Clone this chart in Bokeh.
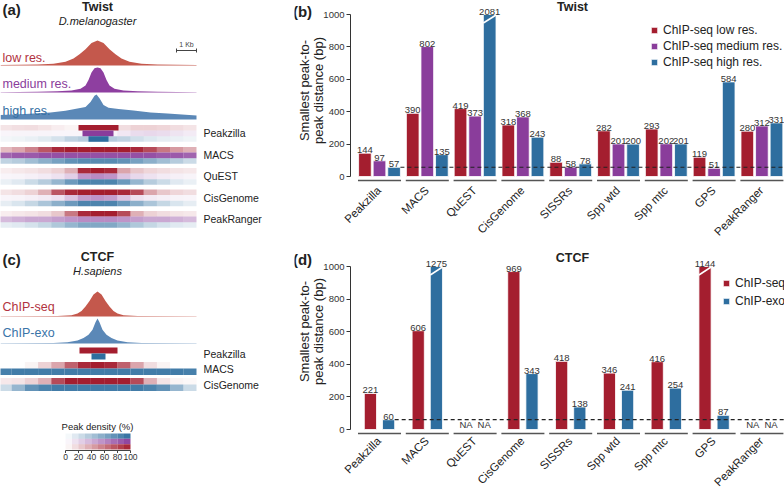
import math
from bokeh.plotting import figure
from bokeh.models import Range1d, FixedTicker, Legend, LegendItem
from bokeh.layouts import row, column
from bokeh.core.properties import value
from bokeh.embed import file_html
from bokeh.resources import INLINE

FONT = "Liberation Sans"
RED = "#A41E2F"
PURPLE = "#8A3D9B"
BLUE = "#2E6E9F"
CURVE_RED = "#C4584C"
CURVE_PURPLE = "#8E3FA0"
CURVE_BLUE = "#5B88B7"
TXT = "#222222"

# ---------------- bar chart data ----------------
methods = ["Peakzilla", "MACS", "QuEST", "CisGenome", "SISSRs", "Spp wtd", "Spp mtc", "GPS", "PeakRanger"]
twist_low = [144, 390, 419, 318, 88, 282, 293, 119, 280]
twist_med = [97, 802, 373, 368, 58, 201, 202, 51, 312]
twist_high = [57, 135, 2081, 243, 78, 200, 201, 584, 331]
ctcf_seq = [221, 606, None, 969, 418, 346, 416, 1144, None]
ctcf_exo = [60, 1275, None, 343, 138, 241, 254, 87, None]
twist_labels = ["ChIP-seq low res.", "ChIP-seq medium res.", "ChIP-seq high res."]
ctcf_labels = ["ChIP-seq", "ChIP-exo"]
y_ticks = [0, 200, 400, 600, 800, 1000]
y_cap = 1000

# ---------------- read-density profiles (kb from summit, relative density) ----------------
low_kb = [-4.85, -3.0, -2.2, -1.6, -1.2, -0.9, -0.6, -0.3, 0.0, 0.3, 0.6, 0.9, 1.2, 1.6, 2.2, 3.0, 4.95]
low_dens = [0.02, 0.04, 0.07, 0.15, 0.28, 0.45, 0.65, 0.9, 1.0, 0.9, 0.65, 0.45, 0.28, 0.15, 0.07, 0.04, 0.02]
med_kb = [-4.85, -3.0, -2.0, -1.3, -0.85, -0.6, -0.45, -0.3, -0.15, 0.0, 0.15, 0.3, 0.45, 0.6, 0.85, 1.3, 2.0, 3.0, 4.95]
med_dens = [0.01, 0.03, 0.05, 0.08, 0.15, 0.28, 0.5, 0.8, 0.97, 1.0, 0.97, 0.8, 0.5, 0.28, 0.15, 0.08, 0.05, 0.03, 0.01]
high_kb = [-4.85, -3.6, -2.35, -1.6, -1.0, -0.6, -0.35, -0.15, -0.05, 0.1, 0.3, 0.55, 1.05, 1.8, 2.65, 3.5, 4.95]
high_dens = [0.18, 0.22, 0.28, 0.35, 0.44, 0.5, 0.7, 0.95, 1.0, 0.85, 0.58, 0.47, 0.42, 0.36, 0.28, 0.24, 0.16]
seq_kb = [-4.85, -2.0, -1.3, -1.0, -0.8, -0.6, -0.4, -0.2, 0.0, 0.2, 0.4, 0.6, 0.8, 1.0, 1.3, 2.0, 4.95]
seq_dens = [0.01, 0.02, 0.05, 0.12, 0.22, 0.4, 0.62, 0.88, 1.0, 0.88, 0.62, 0.4, 0.22, 0.12, 0.05, 0.02, 0.01]
exo_kb = [-4.85, -2.2, -1.5, -1.0, -0.7, -0.45, -0.25, -0.1, 0.0, 0.1, 0.25, 0.45, 0.7, 1.0, 1.5, 2.2, 4.95]
exo_dens = [0.01, 0.02, 0.05, 0.12, 0.22, 0.35, 0.55, 0.85, 1.0, 0.85, 0.55, 0.35, 0.22, 0.12, 0.05, 0.02, 0.01]

# ---------------- peak-density heat strips (bins in kb, density fraction) ----------------
bin_kb = [-4.62, -3.96, -3.30, -2.64, -1.98, -1.32, -0.66, 0.0, 0.66, 1.32, 1.98, 2.64, 3.30, 3.96, 4.62]
pz_low_bg = [0.12, 0.14, 0.15, 0.12, 0.08, 0.05, 0.03, 0.03, 0.05, 0.15, 0.2, 0.2, 0.18, 0.15, 0.12]
pz_med_bg = [0.05, 0.06, 0.06, 0.06, 0.05, 0.05, 0.05, 0.05, 0.06, 0.12, 0.18, 0.2, 0.18, 0.14, 0.1]
pz_high_bg = [0.06, 0.08, 0.1, 0.14, 0.2, 0.3, 0.35, 0.35, 0.35, 0.3, 0.22, 0.16, 0.12, 0.1, 0.08]
macs_low = [0.3, 0.4, 0.55, 0.75, 0.95, 1.0, 1.0, 1.0, 1.0, 1.0, 0.95, 0.8, 0.6, 0.45, 0.35]
macs_med = [0.8, 0.85, 0.85, 0.9, 0.9, 0.9, 0.9, 0.9, 0.9, 0.9, 0.9, 0.9, 0.85, 0.85, 0.8]
macs_high = [0.3, 0.35, 0.45, 0.55, 0.65, 0.75, 0.8, 0.8, 0.8, 0.75, 0.65, 0.55, 0.45, 0.35, 0.25]
quest_low = [0.08, 0.1, 0.12, 0.15, 0.2, 0.35, 0.95, 1.0, 0.95, 0.4, 0.25, 0.18, 0.15, 0.12, 0.1]
quest_med = [0.05, 0.06, 0.08, 0.1, 0.15, 0.25, 0.55, 0.6, 0.55, 0.3, 0.2, 0.15, 0.1, 0.08, 0.06]
quest_high = [0.1, 0.15, 0.25, 0.35, 0.5, 0.7, 0.85, 0.85, 0.85, 0.7, 0.5, 0.35, 0.25, 0.15, 0.1]
cis_low = [0.12, 0.15, 0.2, 0.35, 0.75, 0.95, 1.0, 1.0, 1.0, 0.95, 0.8, 0.4, 0.25, 0.18, 0.15]
cis_med = [0.05, 0.06, 0.08, 0.1, 0.15, 0.3, 0.5, 0.55, 0.5, 0.3, 0.15, 0.1, 0.08, 0.06, 0.05]
cis_high = [0.12, 0.18, 0.28, 0.4, 0.55, 0.7, 0.85, 0.85, 0.85, 0.7, 0.55, 0.4, 0.28, 0.18, 0.12]
pr_low = [0.08, 0.1, 0.12, 0.15, 0.25, 0.6, 0.95, 1.0, 1.0, 0.8, 0.35, 0.2, 0.15, 0.12, 0.1]
pr_med = [0.35, 0.4, 0.45, 0.45, 0.5, 0.55, 0.6, 0.6, 0.6, 0.55, 0.5, 0.45, 0.45, 0.4, 0.35]
pr_high = [0.12, 0.15, 0.2, 0.28, 0.38, 0.5, 0.6, 0.6, 0.6, 0.5, 0.38, 0.28, 0.2, 0.15, 0.12]
ctcf_macs_seq = [0.0, 0.0, 0.05, 0.2, 0.4, 0.7, 0.95, 1.0, 0.95, 0.7, 0.4, 0.15, 0.05, 0.0, 0.0]
ctcf_macs_exo = [0.88, 0.9, 0.9, 0.9, 0.9, 0.9, 0.9, 0.9, 0.9, 0.9, 0.9, 0.9, 0.9, 0.9, 0.88]
ctcf_cis_seq = [0.1, 0.12, 0.2, 0.35, 0.8, 1.0, 1.0, 1.0, 1.0, 1.0, 0.8, 0.35, 0.12, 0.05, 0.03]
ctcf_cis_exo = [0.25, 0.5, 0.75, 0.85, 0.9, 0.9, 0.9, 0.9, 0.9, 0.9, 0.9, 0.85, 0.75, 0.5, 0.25]

# Peakzilla peak intervals (kb): low / medium / high res. and ChIP-seq / ChIP-exo
twist_pz_start = [-0.95, -0.75, -0.45]
twist_pz_end = [1.05, 0.8, 0.55]
ctcf_pz_start = [-0.9, -0.3]
ctcf_pz_end = [1.0, 0.4]

density_levels = [5, 15, 25, 35, 45, 55, 65, 75, 85, 95]
density_ticks = [0, 20, 40, 60, 80, 100]

LEFT_W = 262
TOTAL_W = 784


# ================= helpers =================
def kb(px):
    """layout helper: reference pixel column -> kb coordinate of the illustration panels"""
    return (px - 97) / 20.0


def Y(px):
    return -px


def txt(p, x, y, s, size, color=TXT, align="left", style="normal", baseline="middle", angle=0.0):
    p.text(x=[x], y=[y], text=[s], text_font=value(FONT), text_font_size=value(size),
           text_color=color, text_align=align, text_baseline=baseline,
           text_font_style=style, angle=angle)


def illus_fig(top, bottom):
    p = figure(width=LEFT_W, height=bottom - top, x_range=Range1d(kb(0), kb(LEFT_W)),
               y_range=Range1d(Y(bottom), Y(top)), output_backend="svg",
               toolbar_location=None, x_axis_location=None, y_axis_location=None,
               min_border_left=0, min_border_right=0, min_border_top=0, min_border_bottom=0,
               title=None)
    p.grid.visible = False
    p.outline_line_color = None
    return p


def curve(p, xs, dens, base, color):
    p.varea(x=xs, y1=[Y(base)] * len(xs), y2=[Y(base - 25 * d) for d in dens], fill_color=color)


def heat_block(p, top, row_h, rows):
    for r, (vals, col) in enumerate(rows):
        p.quad(left=[b - 0.33 for b in bin_kb], right=[b + 0.33 for b in bin_kb],
               top=[Y(top + r * row_h)] * len(bin_kb), bottom=[Y(top + (r + 1) * row_h)] * len(bin_kb),
               fill_color=col, fill_alpha=vals, line_color=None)


def pz_bars(p, top, row_h, starts, ends, cols):
    p.quad(left=starts, right=ends, top=[Y(top + r * row_h) for r in range(len(starts))],
           bottom=[Y(top + (r + 1) * row_h) for r in range(len(starts))],
           fill_color=cols, line_color=None)


# ================= panel (a) =================
A = illus_fig(0, 250)
txt(A, kb(2), Y(9), "(a)", "15px", style="bold")
txt(A, kb(97), Y(6), "Twist", "12.5px", align="center", style="bold")
txt(A, kb(97), Y(20), "D.melanogaster", "11px", align="center", style="italic")
A.segment(x0=[kb(176)], y0=[Y(50)], x1=[kb(196)], y1=[Y(50)], line_color="#444", line_width=1)
A.segment(x0=[kb(176), kb(196)], y0=[Y(48), Y(48)], x1=[kb(176), kb(196)], y1=[Y(52), Y(52)],
          line_color="#444", line_width=1)
txt(A, kb(186), Y(44), "1 Kb", "7px", align="center", color="#444")
curve(A, low_kb, low_dens, 65, CURVE_RED)
curve(A, med_kb, med_dens, 92, CURVE_PURPLE)
curve(A, high_kb, high_dens, 119, CURVE_BLUE)
txt(A, kb(2), Y(57), "low res.", "12.5px", color="#B23341")
txt(A, kb(2), Y(83), "medium res.", "12.5px", color=PURPLE)
txt(A, kb(2), Y(110), "high res.", "12.5px", color="#3570A3")

RH = 5.6
heat_block(A, 124.5, RH, [(pz_low_bg, RED), (pz_med_bg, PURPLE), (pz_high_bg, BLUE)])
pz_bars(A, 124.5, RH, twist_pz_start, twist_pz_end, [RED, PURPLE, BLUE])
heat_block(A, 146.5, RH, [(macs_low, RED), (macs_med, PURPLE), (macs_high, BLUE)])
heat_block(A, 167.5, RH, [(quest_low, RED), (quest_med, PURPLE), (quest_high, BLUE)])
heat_block(A, 189.0, RH, [(cis_low, RED), (cis_med, PURPLE), (cis_high, BLUE)])
heat_block(A, 210.5, RH, [(pr_low, RED), (pr_med, PURPLE), (pr_high, BLUE)])
for name, top in zip(["Peakzilla", "MACS", "QuEST", "CisGenome", "PeakRanger"],
                     [124.5, 146.5, 167.5, 189.0, 210.5]):
    txt(A, kb(203), Y(top + 1.5 * RH), name, "10.5px")

# ================= panel (c) =================
C = illus_fig(250, 488)
txt(C, kb(2), Y(259), "(c)", "15px", style="bold")
txt(C, kb(97), Y(256), "CTCF", "12.5px", align="center", style="bold")
txt(C, kb(97), Y(270), "H.sapiens", "11px", align="center", style="italic")
curve(C, seq_kb, seq_dens, 316, CURVE_RED)
curve(C, exo_kb, exo_dens, 343, CURVE_BLUE)
txt(C, kb(2), Y(306), "ChIP-seq", "12.5px", color="#B23341")
txt(C, kb(2), Y(332), "ChIP-exo", "12.5px", color="#3A74A8")
pz_bars(C, 347, 6, ctcf_pz_start, ctcf_pz_end, [RED, BLUE])
heat_block(C, 361.5, 6.5, [(ctcf_macs_seq, RED), (ctcf_macs_exo, BLUE)])
heat_block(C, 377.5, 6.5, [(ctcf_cis_seq, RED), (ctcf_cis_exo, BLUE)])
txt(C, kb(203), Y(353), "Peakzilla", "10.5px")
txt(C, kb(203), Y(368), "MACS", "10.5px")
txt(C, kb(203), Y(384), "CisGenome", "10.5px")

# colour key
cb0, cb1 = kb(65), kb(130)
cbw = cb1 - cb0
txt(C, kb(97), Y(426), "Peak density (%)", "9.5px", align="center")
for r, col in enumerate([BLUE, PURPLE, RED]):
    C.quad(left=[cb0 + (l - 5) / 100 * cbw for l in density_levels],
           right=[cb0 + (l + 5) / 100 * cbw for l in density_levels],
           top=[Y(433 + r * 5.33)] * len(density_levels), bottom=[Y(433 + (r + 1) * 5.33)] * len(density_levels),
           fill_color=col, fill_alpha=[l / 100 for l in density_levels], line_color=None)
C.segment(x0=[cb0], y0=[Y(450)], x1=[cb1], y1=[Y(450)], line_color="#444", line_width=1)
tx = [cb0 + t / 100 * cbw for t in density_ticks]
C.segment(x0=tx, y0=[Y(450)] * len(tx), x1=tx, y1=[Y(452.5)] * len(tx), line_color="#444", line_width=1)
C.text(x=tx, y=[Y(453)] * len(tx), text=[str(t) for t in density_ticks], text_font=value(FONT),
       text_font_size=value("8.5px"), text_color="#333", text_align="center", text_baseline="top")


# ================= bar panels (b) and (d) =================
X0, PITCH = 379.0, 47.8
BORDER = 32


def bar_panel(series, colors, labels, offsets, bar_w, fig_top, fig_bot, zero_px, cap_px,
              underline_px, title, tag, title_py, tag_py, legend_xy, legend_spacing, ylab_py,
              cat_drop):
    ppu = (zero_px - cap_px) / y_cap
    frame_left = LEFT_W + BORDER

    def XD(px):
        return (px - X0) / PITCH

    def YD(py):
        return (zero_px - py) / ppu

    p = figure(width=TOTAL_W - LEFT_W, height=fig_bot - fig_top,
               x_range=Range1d(XD(frame_left), XD(TOTAL_W)),
               y_range=Range1d(YD(fig_bot), YD(fig_top)),
               output_backend="svg", toolbar_location=None, x_axis_location=None,
               min_border_left=BORDER, min_border_right=0, min_border_top=0, min_border_bottom=0,
               title=None)
    p.grid.visible = False
    p.outline_line_color = None
    ax = p.yaxis[0]
    ax.fixed_location = XD(350)
    ax.ticker = FixedTicker(ticks=y_ticks)
    ax.bounds = (0, y_cap)
    ax.major_label_text_font = FONT
    ax.major_label_text_font_size = "9.5px"
    ax.major_label_text_color = "#333"
    ax.major_tick_out = 4
    ax.major_tick_in = 0
    ax.minor_tick_line_color = None
    ax.axis_line_color = "#333"
    ax.major_tick_line_color = "#333"
    ax.major_label_standoff = 2

    rends = []
    for vals, col, off in zip(series, colors, offsets):
        xs = [i + off for i, v in enumerate(vals) if v is not None]
        vs = [v for v in vals if v is not None]
        tops = [min(v, y_cap) for v in vs]
        r = p.vbar(x=xs, top=tops, bottom=0, width=bar_w, fill_color=col,
                   line_color="white", line_width=0.8)
        rends.append(r)
        p.text(x=xs, y=tops, text=[str(v) for v in vs], text_font=value(FONT),
               text_font_size=value("9.5px"), text_color="#333", text_align="center",
               text_baseline="bottom")
        brk = [x for x, v in zip(xs, vs) if v > y_cap]
        if brk:
            p.segment(x0=[x - bar_w / 2 for x in brk], y0=[y_cap - 8.5 / ppu] * len(brk),
                      x1=[x + bar_w / 2 for x in brk], y1=[y_cap - 0.5 / ppu] * len(brk),
                      line_color="white", line_width=1.5)
        na = [i + off for i, v in enumerate(vals) if v is None]
        if na:
            p.text(x=na, y=[0] * len(na), text=["NA"] * len(na), text_font=value(FONT),
                   text_font_size=value("9.5px"), text_color="#333", text_align="center",
                   text_baseline="bottom")

    n = len(methods)
    uy = YD(underline_px)
    p.segment(x0=[i - 0.45 for i in range(n)], y0=[uy] * n, x1=[i + 0.45 for i in range(n)],
              y1=[uy] * n, line_color="#555", line_width=1.4)
    p.text(x=[i - 0.01 for i in range(n)], y=[YD(zero_px + cat_drop)] * n, text=methods,
           angle=math.pi / 4, text_font=value(FONT), text_font_size=value("11.5px"),
           text_color=TXT, text_align="right", text_baseline="middle")

    ref = min(v for v in (s[0] for s in series) if v is not None)
    p.segment(x0=[offsets[-1] + bar_w / 2], y0=[ref], x1=[XD(TOTAL_W)], y1=[ref],
              line_color="#222", line_width=1.2, line_dash="4 3")

    legend = Legend(items=[LegendItem(label=l, renderers=[r]) for l, r in zip(labels, rends)],
                    location=legend_xy, border_line_color=None, background_fill_alpha=0,
                    padding=0, margin=0, spacing=legend_spacing, glyph_width=8, glyph_height=8,
                    label_height=12, label_standoff=5, label_text_font=FONT,
                    label_text_font_size="12px", label_text_color=TXT)
    p.add_layout(legend)

    txt(p, XD(302), YD(tag_py), tag, "15px", align="center", style="bold")
    txt(p, XD(572), YD(title_py), title, "12.5px", align="center", style="bold")
    txt(p, XD(304), YD(ylab_py), "Smallest peak-to-", "13px", align="center", angle=math.pi / 2)
    txt(p, XD(318), YD(ylab_py), "peak distance (bp)", "13px", align="center", angle=math.pi / 2)
    return p


B = bar_panel([twist_low, twist_med, twist_high], [RED, PURPLE, BLUE], twist_labels,
              [-0.305, 0.0, 0.305], 0.265, 0, 250, 176, 14, 180, "Twist", "(b)", 6, 11,
              (650 - LEFT_W - BORDER, 250 - 69), 2, 90, 12)
D = bar_panel([ctcf_seq, ctcf_exo], [RED, BLUE], ctcf_labels,
              [-0.19, 0.19], 0.255, 250, 488, 429, 266, 433, "CTCF", "(d)", 257, 259,
              (722 - LEFT_W - BORDER, 488 - 308), 4, 331, 9.5)

page = row(column(A, C), column(B, D))
open("out.html", "w").write(file_html(page, INLINE))
